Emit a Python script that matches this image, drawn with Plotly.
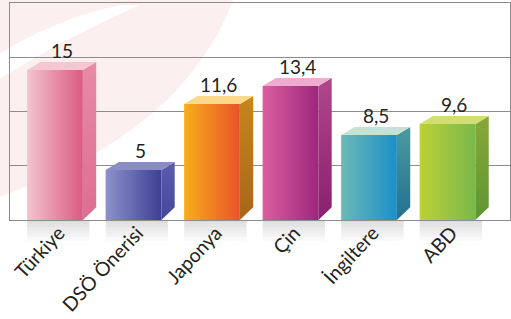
import plotly.graph_objects as go

categories = ["Türkiye", "DSÖ Önerisi", "Japonya", "Çin", "İngiltere", "ABD"]
values = [15, 5, 11.6, 13.4, 8.5, 9.6]
value_labels = ["15", "5", "11,6", "13,4", "8,5", "9,6"]

front_colors = [("#f4c3cd", "#db5b84"), ("#8e92cb", "#3d3f94"), ("#f7ae1a", "#e9532a"),
                ("#dc5e9e", "#9d277e"), ("#6cbab7", "#1b8fc8"), ("#bcd136", "#7ab84b")]
side_colors = [("#e88aa8", "#dc6e92"), ("#5a5dae", "#44479b"), ("#c8861c", "#a9651a"),
               ("#b0468a", "#8a1f6e"), ("#4a9aa0", "#23708f"), ("#88a838", "#5e9630")]
top_colors = ["#f6c6d2", "#8a8cc6", "#fcd98a", "#efacd0", "#c6e2d2", "#d3de72"]

W = 0.71   # front width (x units)
DX = 0.17  # depth offset in x
DY = 0.8   # depth offset in y
YMAX = 21.7

fig = go.Figure()
shapes = []


def px(xp, yp):
    # pixel position -> paper coords (plot area spans x 10..510, y 3..220)
    return (xp - 10) / 500, (220 - yp) / 217


# faint decorative watermark in the upper-left background
a = px(-10, -5); b = px(235, -5); c = px(185, 135); d = px(-10, 200)
shapes.append(dict(type="path", xref="paper", yref="paper", layer="below",
                   path=f"M {a[0]},{a[1]} L {b[0]},{b[1]} Q {c[0]},{c[1]} {d[0]},{d[1]} Z",
                   fillcolor="#fbefef", line=dict(width=0)))
s1 = px(-10, 60); s2 = px(120, 5); s3 = px(140, 5); s4 = px(-10, 85)
shapes.append(dict(type="path", xref="paper", yref="paper", layer="below",
                   path=f"M {s1[0]},{s1[1]} Q {px(50,20)[0]},{px(50,20)[1]} {s2[0]},{s2[1]} "
                        f"L {s3[0]},{s3[1]} Q {px(60,40)[0]},{px(60,40)[1]} {s4[0]},{s4[1]} Z",
                   fillcolor="#ffffff", line=dict(width=0)))

for i, v in enumerate(values):
    x0, x1 = i - W / 2, i + W / 2
    # front face
    fig.add_trace(go.Scatter(
        x=[x0, x1, x1, x0, x0], y=[0, 0, v, v, 0], fill="toself", mode="lines",
        line=dict(width=0), hoverinfo="skip", showlegend=False,
        fillgradient=dict(type="horizontal",
                          colorscale=[[0, front_colors[i][0]], [1, front_colors[i][1]]])))
    # side face
    fig.add_trace(go.Scatter(
        x=[x1, x1 + DX, x1 + DX, x1, x1], y=[0, DY * 1.6, v + DY, v, 0], fill="toself",
        mode="lines", line=dict(width=0), hoverinfo="skip", showlegend=False,
        fillgradient=dict(type="vertical",
                          colorscale=[[0, side_colors[i][1]], [1, side_colors[i][0]]])))
    # top face
    fig.add_trace(go.Scatter(
        x=[x0, x1, x1 + DX, x0 + DX, x0], y=[v, v, v + DY, v + DY, v], fill="toself",
        mode="lines", line=dict(width=0), fillcolor=top_colors[i],
        hoverinfo="skip", showlegend=False))
    fig.add_annotation(x=i + DX / 2, y=v + DY, text=value_labels[i], showarrow=False,
                       yanchor="bottom", yshift=-2,
                       font=dict(family="Lato", size=19, color="#231f20"))
    # soft shadow below the baseline
    step = 0.016
    for k in range(6):
        shapes.append(dict(type="rect", xref="x", yref="paper",
                           x0=x0, x1=x1 + DX * 0.5, y0=-step * (k + 1), y1=-step * k,
                           fillcolor="#9a9a9a", opacity=0.32 * (1 - k / 6),
                           line=dict(width=0), layer="below"))

fig.update_layout(
    width=511, height=319,
    margin=dict(l=10, r=1, t=3, b=99),
    paper_bgcolor="white", plot_bgcolor="rgba(0,0,0,0)",
    shapes=shapes,
    xaxis=dict(range=[-0.573, 5.796], tickmode="array", automargin=False,
               tickvals=[i + 0.05 for i in range(len(categories))], ticktext=categories,
               tickangle=-47, showgrid=False, zeroline=False, showline=True, mirror=True,
               linecolor="#8c8c8c", linewidth=1, ticks="", ticklabelstandoff=-7,
               tickfont=dict(family="Lato", size=19.5, color="#231f20")),
    yaxis=dict(range=[0, YMAX], tickmode="array", automargin=False,
               tickvals=[YMAX * k / 4 for k in range(1, 4)], showticklabels=False,
               showgrid=True, gridcolor="#8c8c8c", gridwidth=1, zeroline=False,
               showline=True, mirror=True, linecolor="#8c8c8c", linewidth=1),
)

fig.write_html("out.html", config={"displayModeBar": False},
               post_script="document.body.style.margin='0';document.body.style.overflow='hidden';")
